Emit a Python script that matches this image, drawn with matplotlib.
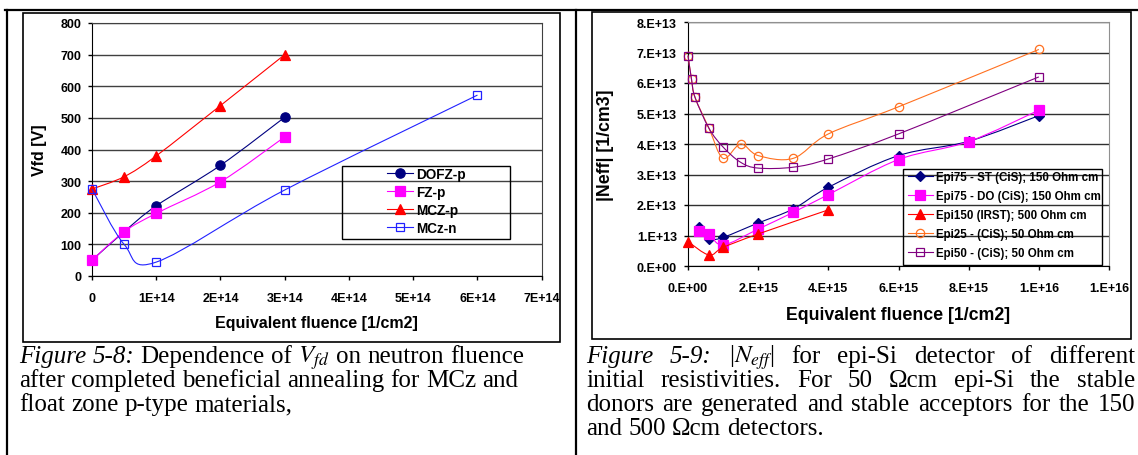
import numpy as np
import matplotlib
matplotlib.use("Agg")
import matplotlib.pyplot as plt
from matplotlib.path import Path
from matplotlib.patches import PathPatch, Rectangle
from matplotlib.lines import Line2D
from matplotlib.ticker import FuncFormatter, MultipleLocator

W, H = 1138, 456

# --- Figure 5-8: Vfd vs fluence ---
fl_p = [0, 0.5e14, 1e14, 2e14, 3e14]
vfd_dofz = [50, 140, 222, 350, 502]
vfd_fz = [50, 140, 198, 298, 440]
vfd_mczp = [275, 314, 380, 539, 700]
fl_mczn = [0, 0.5e14, 1e14, 3e14, 6e14]
vfd_mczn = [275, 100, 44, 272, 572]

# --- Figure 5-9: |Neff| vs fluence ---
fl_epi75 = [0.3e15, 0.6e15, 1e15, 2e15, 3e15, 4e15, 6e15, 8e15, 1e16]
neff_st = [1.27e13, 0.89e13, 0.94e13, 1.41e13, 1.87e13, 2.58e13, 3.62e13, 4.09e13, 4.93e13]
neff_do = [1.14e13, 1.05e13, 0.69e13, 1.21e13, 1.76e13, 2.34e13, 3.49e13, 4.08e13, 5.11e13]
fl_epi150 = [0, 0.6e15, 1e15, 2e15, 4e15]
neff_150 = [0.80e13, 0.36e13, 0.61e13, 1.05e13, 1.84e13]
fl_epi50 = [0, 0.1e15, 0.2e15, 0.6e15, 1e15, 1.5e15, 2e15, 3e15, 4e15, 6e15, 1e16]
neff_25 = [6.9e13, 6.12e13, 5.53e13, 4.51e13, 3.53e13, 4.0e13, 3.62e13, 3.53e13, 4.33e13, 5.22e13, 7.1e13]
neff_50 = [6.9e13, 6.12e13, 5.53e13, 4.51e13, 3.9e13, 3.4e13, 3.21e13, 3.24e13, 3.51e13, 4.33e13, 6.2e13]

plt.rcParams['font.family'] = 'Liberation Sans'
plt.rcParams['mathtext.fontset'] = 'stix'
BOLD = 'bold'


def px(x, y):
    return x / W, 1 - y / H


def smooth_line(ax, xs, ys, color, lw=0.8, z=2):
    # Excel-like smoothed line: Catmull-Rom segments as cubic Bezier
    p = np.column_stack([xs, ys]).astype(float)
    n = len(p)
    verts = [p[0]]
    codes = [Path.MOVETO]
    for i in range(n - 1):
        p0 = p[i - 1] if i > 0 else p[i]
        p3 = p[i + 2] if i + 2 < n else p[i + 1]
        c1 = p[i] + (p[i + 1] - p0) / 6
        c2 = p[i + 1] - (p3 - p[i]) / 6
        verts += [c1, c2, p[i + 1]]
        codes += [Path.CURVE4] * 3
    ax.add_patch(PathPatch(Path(verts, codes), fill=False, edgecolor=color,
                           lw=lw, zorder=z, clip_on=False))


def series(ax, xs, ys, color, marker, ms, filled=True, z=2):
    smooth_line(ax, xs, ys, color, z=z)
    ax.plot(xs, ys, linestyle='none', marker=marker, ms=ms,
            mfc=color if filled else 'none', mec=color, mew=0.9,
            zorder=z + 0.5, clip_on=False)
    return Line2D([], [], color=color, lw=0.8, marker=marker, ms=ms,
                  mfc=color if filled else 'none', mec=color, mew=0.9)


fig = plt.figure(figsize=(W / 100, H / 100), dpi=100)

# table frame and chart boxes
for (x0, y0, x1, y1) in [(5, 11, 1138, 11), (7, 11, 7, 456), (576, 11, 576, 456)]:
    fig.add_artist(Line2D([px(x0, y0)[0], px(x1, y1)[0]], [px(x0, y0)[1], px(x1, y1)[1]],
                          transform=fig.transFigure, color='black', lw=1.6))
for (x0, y0, x1, y1) in [(23, 14, 560, 343), (592, 13, 1131, 340)]:
    fig.add_artist(Rectangle(px(x0, y1), (x1 - x0) / W, (y1 - y0) / H, fill=False,
                             edgecolor='black', lw=1.2, transform=fig.transFigure))

# ---------- left chart ----------
ax1 = fig.add_axes([92 / W, 1 - 277 / H, 449.7 / W, 253 / H])
h1 = [series(ax1, fl_p, vfd_dofz, '#000080', 'o', 6.7, z=2),
      series(ax1, fl_p, vfd_fz, '#FF00FF', 's', 6.7, z=3),
      series(ax1, fl_p, vfd_mczp, '#FF0000', '^', 7.4, z=4),
      series(ax1, fl_mczn, vfd_mczn, '#2222FF', 's', 6.3, filled=False, z=5)]
ax1.set_xlim(0, 7e14)
ax1.set_ylim(0, 800)
ax1.xaxis.set_major_locator(MultipleLocator(1e14))
ax1.yaxis.set_major_locator(MultipleLocator(100))
ax1.xaxis.set_major_formatter(FuncFormatter(lambda v, p: '0' if v == 0 else f'{v:.0E}'))
ax1.grid(axis='y', color='#404040', lw=1.0)
ax1.set_axisbelow(True)
ax1.tick_params(labelsize=9, length=3, width=1, pad=8.5, direction='out')
ax1.tick_params(axis='y', pad=4.5)
for lab in ax1.get_xticklabels() + ax1.get_yticklabels():
    lab.set_fontweight(BOLD)
for s in ['top', 'right']:
    ax1.spines[s].set_color('#404040')
ax1.set_xlabel('Equivalent fluence [1/cm2]', fontsize=11.5, fontweight=BOLD)
ax1.xaxis.set_label_coords(0.5, -0.182)
ax1.xaxis.label.set_va('center')
ax1.set_ylabel('Vfd [V]', fontsize=11.5, fontweight=BOLD)
ax1.yaxis.set_label_coords(-0.116, 0.5)
ax1.yaxis.label.set_va('center')

leg1 = ax1.legend(h1, ['DOFZ-p', 'FZ-p', 'MCZ-p', 'MCz-n'], frameon=False,
                  loc='upper left', bbox_to_anchor=px(387, 168), bbox_transform=fig.transFigure,
                  borderpad=0, borderaxespad=0, prop={'size': 9.8, 'weight': BOLD},
                  handlelength=1.9, handletextpad=0.25, labelspacing=0.29)
fig.add_artist(Rectangle(px(342, 240), 168 / W, 73 / H, fill=False, edgecolor='black',
                         lw=1.0, transform=fig.transFigure))

# ---------- right chart ----------
ax2 = fig.add_axes([688 / W, 1 - 267 / H, 421 / W, 244 / H])
h2 = [series(ax2, fl_epi75, neff_st, '#000080', 'D', 5.6, z=2),
      series(ax2, fl_epi75, neff_do, '#FF00FF', 's', 7.0, z=3),
      series(ax2, fl_epi150, neff_150, '#FF0000', '^', 7.8, z=4),
      series(ax2, fl_epi50, neff_25, '#FF7020', 'o', 6.0, filled=False, z=5),
      series(ax2, fl_epi50, neff_50, '#800080', 's', 6.0, filled=False, z=6)]
ax2.set_xlim(0, 1.2e16)
ax2.set_ylim(0, 8e13)
ax2.xaxis.set_major_locator(MultipleLocator(2e15))
ax2.yaxis.set_major_locator(MultipleLocator(1e13))
fmt = FuncFormatter(lambda v, p: f'{v:#.0E}')
ax2.xaxis.set_major_formatter(fmt)
ax2.yaxis.set_major_formatter(fmt)
ax2.grid(axis='y', color='#303030', lw=1.0)
ax2.set_axisbelow(True)
ax2.tick_params(labelsize=9, length=3, width=1, pad=8.5, direction='out')
ax2.tick_params(axis='y', pad=5)
for lab in ax2.get_xticklabels() + ax2.get_yticklabels():
    lab.set_fontweight(BOLD)
for s in ['top', 'right']:
    ax2.spines[s].set_color('#909090')
ax2.set_xlabel('Equivalent fluence [1/cm2]', fontsize=12.8, fontweight=BOLD)
ax2.xaxis.set_label_coords(0.5, -0.2)
ax2.xaxis.label.set_va('center')
ax2.set_ylabel('|Neff| [1/cm3]', fontsize=12.8, fontweight=BOLD)
ax2.yaxis.set_label_coords(-0.195, 0.5)
ax2.yaxis.label.set_va('center')

leg2 = ax2.legend(h2, ['Epi75 - ST (CiS); 150 Ohm cm', 'Epi75 - DO (CiS); 150 Ohm cm',
                       'Epi150 (IRST); 500 Ohm cm', 'Epi25 - (CiS); 50 Ohm cm',
                       'Epi50 - (CiS); 50 Ohm cm'], frameon=False,
                  loc='upper left', bbox_to_anchor=px(908, 172), bbox_transform=fig.transFigure,
                  borderpad=0, borderaxespad=0, prop={'size': 8.3, 'weight': BOLD},
                  handlelength=2.15, handletextpad=0.3, labelspacing=0.6)
fig.add_artist(Rectangle(px(903, 266), 199 / W, 96 / H, fill=False, edgecolor='black',
                         lw=1.0, transform=fig.transFigure))

# ---------- captions ----------
cap_size = 18
renderer = fig.canvas.get_renderer()


def caption_line(tokens, x0, x1, y, justify):
    words = []
    for txt, italic in tokens:
        for w in txt.split():
            words.append(fig.text(0, 0, w, fontsize=cap_size, family='Liberation Serif',
                                  fontweight='normal', style='italic' if italic else 'normal',
                                  va='baseline', ha='left'))
    widths = [t.get_window_extent(renderer).width for t in words]
    if justify and len(words) > 1:
        gap = (x1 - x0 - sum(widths)) / (len(words) - 1)
    else:
        gap = 0.25 * cap_size * 100 / 72
    x = x0
    for t, w in zip(words, widths):
        t.set_position(px(x, y))
        x += w + gap


left_caption = [
    [("Figure 5-8:", True), ("Dependence of $V_{fd}$ on neutron fluence", False)],
    [("after completed beneficial annealing for MCz and", False)],
    [("float zone p-type materials,", False)],
]
right_caption = [
    [("Figure 5-9:", True), ("|$N_{eff}$| for epi-Si detector of different", False)],
    [("initial resistivities. For 50 \u03A9cm epi-Si the stable", False)],
    [("donors are generated and stable acceptors for the 150", False)],
    [("and 500 \u03A9cm detectors.", False)],
]
for i, line in enumerate(left_caption):
    caption_line(line, 19, 540, 363 + 24 * i, False)
for i, line in enumerate(right_caption):
    caption_line(line, 586, 1135, 363 + 24 * i, i < 3)

plt.savefig('out.png', dpi=100)
